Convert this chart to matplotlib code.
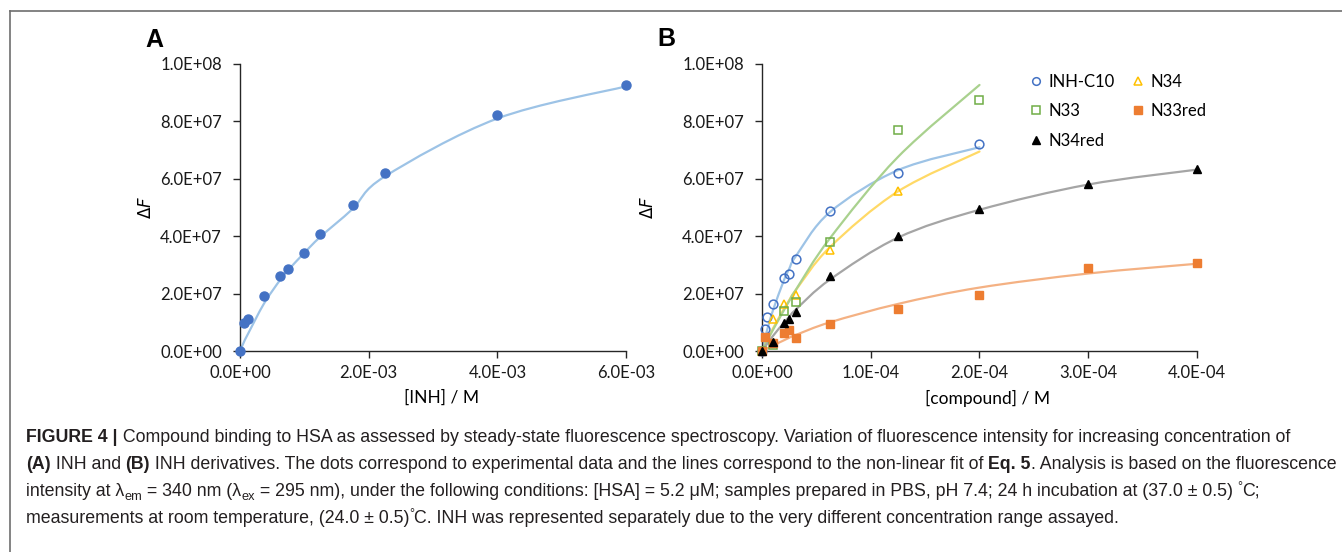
import numpy as np
import matplotlib
matplotlib.use("Agg")
import matplotlib.pyplot as plt
from matplotlib.path import Path
from matplotlib.patches import PathPatch
from matplotlib.lines import Line2D
from matplotlib import font_manager

# ---------------- data ----------------
# Panel A: INH
inh_x = [0, 6.25e-5, 1.25e-4, 3.75e-4, 6.25e-4, 7.5e-4, 1.0e-3, 1.25e-3, 1.75e-3, 2.25e-3, 4.0e-3, 6.0e-3]
inh_y = [0, 9.6e6, 1.12e7, 1.90e7, 2.62e7, 2.85e7, 3.41e7, 4.07e7, 5.07e7, 6.21e7, 8.21e7, 9.26e7]
inh_fit = [0, 3.2e6, 6.0e6, 1.66e7, 2.48e7, 2.82e7, 3.42e7, 3.98e7, 4.95e7, 6.08e7, 8.10e7, 9.22e7]

# Panel B: derivatives (points)
c10_x = [0, 2.5e-6, 5e-6, 1e-5, 2e-5, 2.5e-5, 3.125e-5, 6.25e-5, 1.25e-4, 2e-4]
c10_y = [0, 7.7e6, 1.18e7, 1.63e7, 2.53e7, 2.68e7, 3.22e7, 4.89e7, 6.21e7, 7.22e7]

n34_x = [0, 1e-5, 2e-5, 3.125e-5, 6.25e-5, 1.25e-4]
n34_y = [0, 1.10e7, 1.64e7, 1.95e7, 3.52e7, 5.56e7]

n33_x = [0, 1e-5, 2e-5, 3.125e-5, 6.25e-5, 1.25e-4, 2e-4]
n33_y = [0, 2.1e6, 1.38e7, 1.70e7, 3.80e7, 7.71e7, 8.76e7]

n33red_x = [0, 2.5e-6, 1e-5, 2e-5, 2.5e-5, 3.125e-5, 6.25e-5, 1.25e-4, 2e-4, 3e-4, 4e-4]
n33red_y = [0, 5.0e6, 2.8e6, 6.2e6, 7.2e6, 4.4e6, 9.5e6, 1.45e7, 1.96e7, 2.89e7, 3.06e7]

n34red_x = [0, 1e-5, 2e-5, 2.5e-5, 3.125e-5, 6.25e-5, 1.25e-4, 2e-4, 3e-4, 4e-4]
n34red_y = [0, 3.0e6, 9.6e6, 1.12e7, 1.35e7, 2.60e7, 4.02e7, 4.96e7, 5.83e7, 6.35e7]

# Panel B: fitted lines
fitB_x = [0, 2.5e-6, 5e-6, 1e-5, 2e-5, 2.5e-5, 3.125e-5, 6.25e-5, 1.25e-4, 2e-4]
c10_fit = [0, 4.0e6, 7.7e6, 1.41e7, 2.45e7, 2.86e7, 3.31e7, 4.84e7, 6.30e7, 7.10e7]
n34_fit = [0, 2.0e6, 4.0e6, 7.8e6, 1.46e7, 1.77e7, 2.13e7, 3.62e7, 5.56e7, 6.95e7]
n33_fit = [0, 1.9e6, 3.7e6, 7.3e6, 1.41e7, 1.74e7, 2.14e7, 3.93e7, 6.76e7, 9.27e7]
fitB2_x = [0, 1e-5, 2e-5, 2.5e-5, 3.125e-5, 6.25e-5, 1.25e-4, 2e-4, 3e-4, 4e-4]
n33red_fit = [0, 1.9e6, 3.7e6, 4.6e6, 5.6e6, 1.00e7, 1.64e7, 2.21e7, 2.70e7, 3.04e7]
n34red_fit = [0, 5.2e6, 9.8e6, 1.19e7, 1.45e7, 2.49e7, 3.95e7, 4.92e7, 5.80e7, 6.32e7]

ytick_vals = [0, 2e7, 4e7, 6e7, 8e7, 1e8]
ytick_labels = ["0.0E+00", "2.0E+07", "4.0E+07", "6.0E+07", "8.0E+07", "1.0E+08"]
xA_vals = [0, 2e-3, 4e-3, 6e-3]
xA_labels = ["0.0E+00", "2.0E-03", "4.0E-03", "6.0E-03"]
xB_vals = [0, 1e-4, 2e-4, 3e-4, 4e-4]
xB_labels = ["0.0E+00", "1.0E-04", "2.0E-04", "3.0E-04", "4.0E-04"]

# ---------------- style ----------------
W, H = 1342, 552
TICKFONT = "Lato"
AXCOL = "#262626"
plt.rcParams["mathtext.fontset"] = "custom"
plt.rcParams["mathtext.rm"] = "DejaVu Sans"
plt.rcParams["mathtext.it"] = "DejaVu Sans:italic"

fig = plt.figure(figsize=(W / 100, H / 100), dpi=100)


def fx(px):
    return px / W


def fy(py):
    return 1 - py / H


def smooth(ax, x, y, color, lw=1.6):
    x = np.asarray(x, float)
    y = np.asarray(y, float)
    P = np.column_stack([x, y])
    n = len(P)
    verts = [P[0]]
    codes = [Path.MOVETO]
    for i in range(n - 1):
        p0 = P[i - 1] if i > 0 else P[i]
        p1 = P[i]
        p2 = P[i + 1]
        p3 = P[i + 2] if i + 2 < n else P[i + 1]
        c1 = p1 + (p2 - p0) / 6.0
        c2 = p2 - (p3 - p1) / 6.0
        verts += [c1, c2, p2]
        codes += [Path.CURVE4] * 3
    ax.add_patch(PathPatch(Path(verts, codes), fill=False, edgecolor=color, lw=lw,
                           capstyle="round", joinstyle="round", zorder=2))


def style_axes(ax, xv, xl):
    for s in ["top", "right"]:
        ax.spines[s].set_visible(False)
    for s in ["left", "bottom"]:
        ax.spines[s].set_color(AXCOL)
        ax.spines[s].set_linewidth(1.0)
    ax.set_yticks(ytick_vals)
    ax.set_yticklabels(ytick_labels)
    ax.set_xticks(xv)
    ax.set_xticklabels(xl)
    ax.set_ylim(0, 1e8)
    ax.set_xlim(xv[0], xv[-1])
    ax.tick_params(axis="both", direction="out", length=5, width=1.0, color=AXCOL,
                   labelsize=12, labelcolor="#1a1a1a")
    ax.tick_params(axis="y", pad=8)
    ax.tick_params(axis="x", pad=5)
    for lab in ax.get_xticklabels() + ax.get_yticklabels():
        lab.set_family(TICKFONT)
    ax.patch.set_alpha(0)


# ---------------- Panel A ----------------
axA = fig.add_axes([fx(240), fy(351), fx(386), 287 / H])
style_axes(axA, xA_vals, xA_labels)
smooth(axA, inh_x, inh_fit, "#9DC3E6")
axA.plot(inh_x, inh_y, "o", color="#4472C4", ms=6.5, mec="#4472C4", clip_on=False, zorder=3)
axA.set_ylabel(r"$\Delta\mathit{F}$", fontsize=12)
axA.yaxis.label.set_va("center")
axA.yaxis.set_label_coords((146 - 240) / 386, 0.5)
axA.set_xlabel("[INH] / M", fontsize=12.5, family=TICKFONT)
axA.xaxis.set_label_coords((442 - 240) / 386, (351 - 398) / 287)
axA.xaxis.label.set_va("center")

# ---------------- Panel B ----------------
axB = fig.add_axes([fx(762), fy(351), fx(435), 287 / H])
style_axes(axB, xB_vals, xB_labels)
smooth(axB, fitB_x, c10_fit, "#9DC3E6")
smooth(axB, fitB_x, n34_fit, "#FFD966")
smooth(axB, fitB_x, n33_fit, "#A9D18E")
smooth(axB, fitB2_x, n33red_fit, "#F4B183")
smooth(axB, fitB2_x, n34red_fit, "#A5A5A5")

ms = 6.3
axB.plot(c10_x, c10_y, "o", ms=ms, mfc="none", mec="#4472C4", mew=1.1, clip_on=False, zorder=3)
axB.plot(n34_x, n34_y, "^", ms=ms, mfc="none", mec="#FFC000", mew=1.1, clip_on=False, zorder=3)
axB.plot(n33_x, n33_y, "s", ms=ms - 0.5, mfc="none", mec="#70AD47", mew=1.1, clip_on=False, zorder=3)
axB.plot(n33red_x, n33red_y, "s", ms=ms - 0.3, color="#ED7D31", clip_on=False, zorder=3)
axB.plot(n34red_x, n34red_y, "^", ms=ms, color="black", clip_on=False, zorder=4)

axB.set_ylabel(r"$\Delta\mathit{F}$", fontsize=12)
axB.yaxis.label.set_va("center")
axB.yaxis.set_label_coords((648 - 762) / 435, 0.5)
axB.set_xlabel("[compound] / M", fontsize=12.5, family=TICKFONT)
axB.xaxis.set_label_coords((988 - 762) / 435, (351 - 398) / 287)
axB.xaxis.label.set_va("center")

leg_handles = [
    Line2D([], [], ls="none", marker="o", ms=5.5, mfc="none", mec="#4472C4", mew=1.1),
    Line2D([], [], ls="none", marker="s", ms=5.3, mfc="none", mec="#70AD47", mew=1.1),
    Line2D([], [], ls="none", marker="^", ms=6, color="black"),
    Line2D([], [], ls="none", marker="^", ms=6, mfc="none", mec="#FFC000", mew=1.1),
    Line2D([], [], ls="none", marker="s", ms=5.5, color="#ED7D31"),
]
leg_labels = ["INH-C10", "N33", "N34red", "N34", "N33red"]
fig.legend(leg_handles, leg_labels, ncol=2, loc="upper left",
           bbox_to_anchor=(fx(1029), fy(74)), frameon=False, borderpad=0, borderaxespad=0,
           handlelength=0.8, handletextpad=0.35, columnspacing=1.0, labelspacing=0.8,
           prop={"family": TICKFONT, "size": 12})

# panel letters
fig.text(fx(145), fy(47), "A", fontsize=18, weight="bold", family="Liberation Sans", va="baseline")
fig.text(fx(657), fy(46), "B", fontsize=18, weight="bold", family="Liberation Sans", va="baseline")

# frame
fig.add_artist(Line2D([fx(10), fx(1342)], [fy(11), fy(11)], color="#6e6e6e", lw=1.2))
fig.add_artist(Line2D([fx(10), fx(10)], [fy(11), fy(552)], color="#6e6e6e", lw=1.2))

# ---------------- caption ----------------
names = {f.name for f in font_manager.fontManager.ttflist}
CAPFONT = "Liberation Sans Narrow" if "Liberation Sans Narrow" in names else "Liberation Sans"

cap_lines = [
    [("FIGURE 4 |", "b"), (" Compound binding to HSA as assessed by steady-state fluorescence spectroscopy. Variation of fluorescence intensity for increasing concentration of", "n")],
    [("(A)", "b"), (" INH and ", "n"), ("(B)", "b"), (" INH derivatives. The dots correspond to experimental data and the lines correspond to the non-linear fit of ", "n"), ("Eq. 5", "b"), (". Analysis is based on the fluorescence", "n")],
    [("intensity at λ", "n"), ("em", "sub"), (" = 340 nm (λ", "n"), ("ex", "sub"), (" = 295 nm), under the following conditions: [HSA] = 5.2 μM; samples prepared in PBS, pH 7.4; 24 h incubation at (37.0 ± 0.5) ", "n"), ("°", "sup"), ("C;", "n")],
    [("measurements at room temperature, (24.0 ± 0.5)", "n"), ("°", "sup"), ("C. INH was represented separately due to the very different concentration range assayed.", "n")],
]
cap_base = [442, 469, 496, 523]

fig.canvas.draw()
renderer = fig.canvas.get_renderer()


def run_width(text, style, fs):
    size = fs * 0.72 if style in ("sub", "sup") else fs
    weight = "bold" if style == "b" else "normal"
    t1 = fig.text(0, 0, text + "x", fontsize=size, weight=weight, family=[CAPFONT, "DejaVu Sans"])
    t2 = fig.text(0, 0, "x", fontsize=size, weight=weight, family=[CAPFONT, "DejaVu Sans"])
    w = t1.get_window_extent(renderer).width - t2.get_window_extent(renderer).width
    t1.remove()
    t2.remove()
    return w


def line_width(runs, fs):
    return sum(run_width(t, s, fs) for t, s in runs)


fs0 = 11.0
w0 = line_width(cap_lines[1], fs0)
fs = fs0 * (1306.0 / w0)

for runs, yb in zip(cap_lines, cap_base):
    x = 26.0
    for text, style in runs:
        size = fs * 0.72 if style in ("sub", "sup") else fs
        weight = "bold" if style == "b" else "normal"
        dy = 0
        if style == "sub":
            dy = 3.5
        elif style == "sup":
            dy = -6
        fig.text(fx(x), fy(yb + dy), text, fontsize=size, weight=weight,
                 family=[CAPFONT, "DejaVu Sans"], va="baseline", ha="left", color="#231f20")
        x += run_width(text, style, fs)

fig.savefig("out.png", dpi=100)
